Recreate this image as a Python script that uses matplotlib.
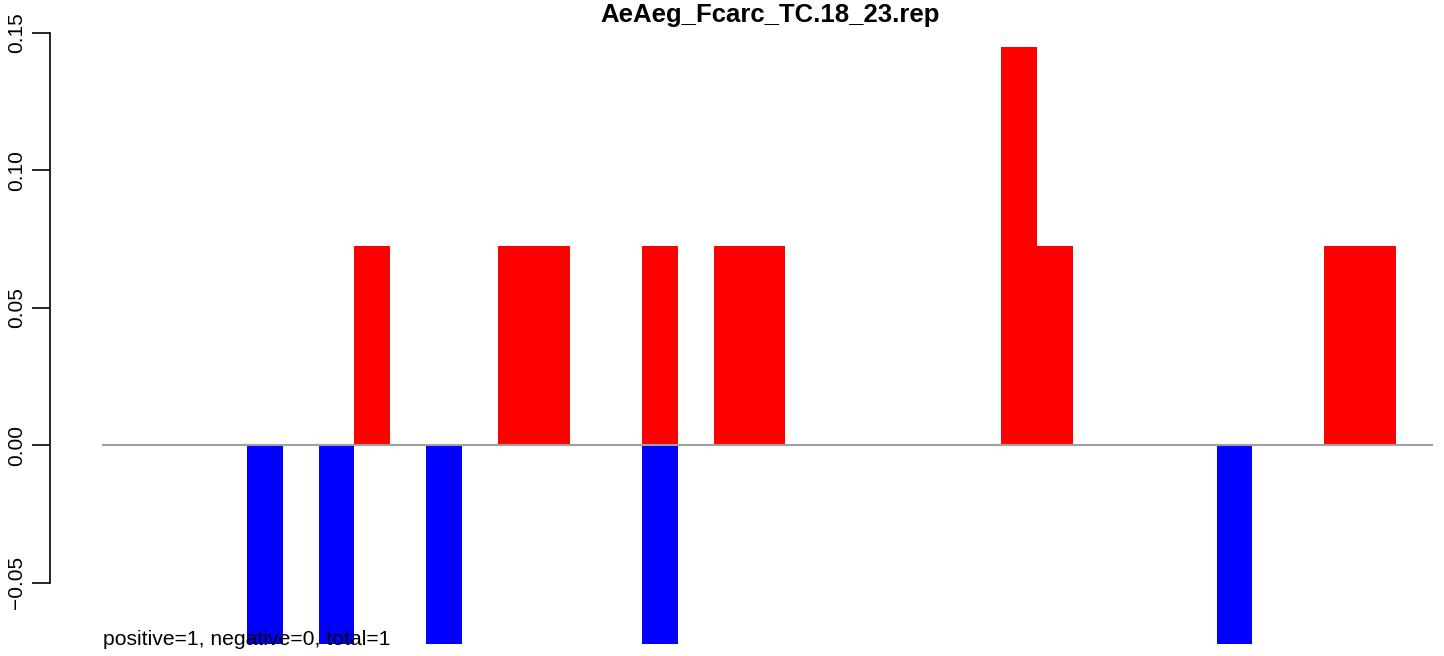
import matplotlib
matplotlib.use("Agg")
import matplotlib.pyplot as plt

title = "AeAeg_Fcarc_TC.18_23.rep"
note = "positive=1, negative=0, total=1"
n_slots = 37

pos_idx = [7, 11, 12, 15, 17, 18, 25, 26, 34, 35]
pos_val = [0.0725, 0.0725, 0.0725, 0.0725, 0.0725, 0.0725, 0.145, 0.0725, 0.0725, 0.0725]
neg_idx = [4, 6, 9, 15, 31]
neg_val = [-0.0725, -0.0725, -0.0725, -0.0725, -0.0725]

yticks = [-0.05, 0.0, 0.05, 0.10, 0.15]
ytick_labels = ["\u22120.05", "0.00", "0.05", "0.10", "0.15"]

W, H = 1444, 656
plt.rcParams.update({
    "font.family": ["Liberation Sans", "DejaVu Sans"],
    "font.size": 15,
})

fig = plt.figure(figsize=(W / 100, H / 100), dpi=100)
ax = fig.add_axes([50 / W, 0, 1 - 50 / W, 1 - 33 / H])

slot_w = 35.92
ax.set_xlim((50 - 103) / slot_w, (W - 103) / slot_w)
ax.set_ylim(-(H - 445) / 2750, 0.15)

ax.bar(pos_idx, pos_val, width=1, align="edge", color="red", linewidth=0)
ax.bar(neg_idx, neg_val, width=1, align="edge", color="blue", linewidth=0)
ax.plot([0, n_slots], [0, 0], color="#a0a0a0", linewidth=1.5, zorder=1)

for s in ["top", "right", "bottom"]:
    ax.spines[s].set_visible(False)
ax.spines["left"].set_bounds(-0.05, 0.15)
ax.spines["left"].set_linewidth(1.2)
ax.set_xticks([])
ax.set_yticks(yticks)
ax.set_yticklabels(ytick_labels, rotation=90, va="center")
ax.tick_params(axis="y", length=13, width=1.2, pad=4, labelsize=15)

fig.text(770 / W, 1 - 15 / H, title, ha="center", va="center",
         fontsize=18.5, fontweight="bold")
ax.text(103 / W, 1 - 645 / H, note, ha="left", va="baseline", fontsize=15.2,
        transform=fig.transFigure, zorder=10)

fig.savefig("out.png", dpi=100)
